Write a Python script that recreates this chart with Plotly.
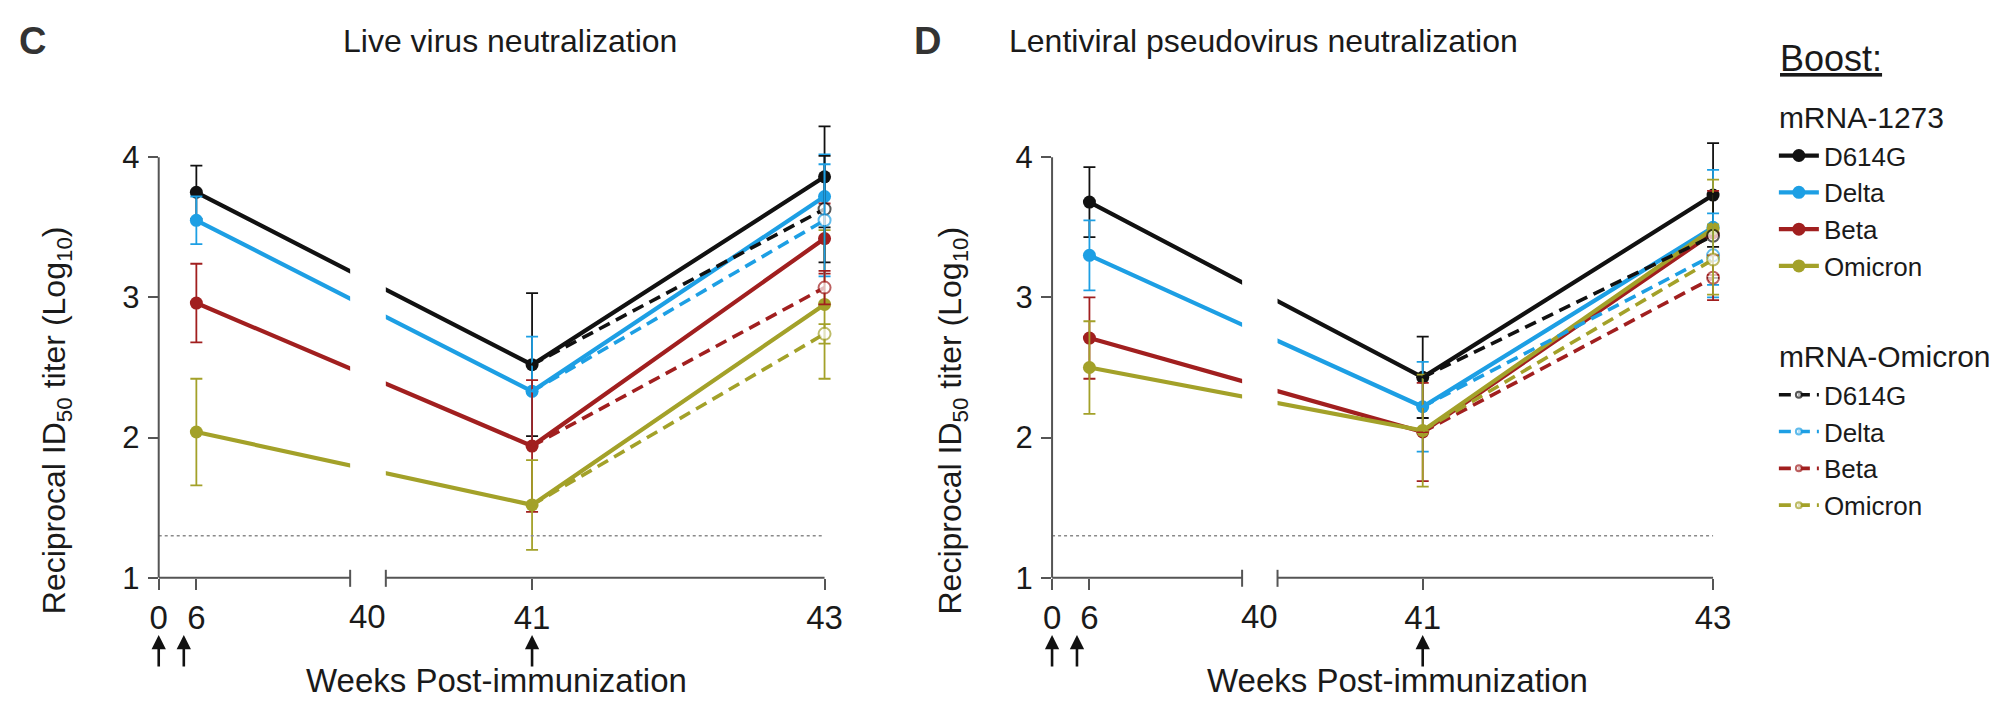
import plotly.graph_objects as go

W, H = 2001, 703          # target picture size
LAYOUT_H = 722            # figure height handed to plotly

# ---- data ---------------------------------------------------------------
VARIANTS = ["D614G", "Delta", "Beta", "Omicron"]
WEEKS_PRIME = [6, 41, 43]          # mRNA-1273 boost series
WEEK_BOOST_READ = 43               # mRNA-Omicron boost read-out
IMMUNIZATION_WEEKS = [0, 4, 41]    # arrows under the axis

# Live virus neutralization (log10 reciprocal ID50), mean and SD
LIVE_1273 = {"D614G": [3.75, 2.52, 3.86], "Delta": [3.55, 2.33, 3.72],
             "Beta": [2.96, 1.94, 3.42], "Omicron": [2.04, 1.52, 2.95]}
LIVE_1273_SD = {"D614G": [0.19, 0.51, 0.36], "Delta": [0.17, 0.39, 0.30],
                "Beta": [0.28, 0.47, 0.25], "Omicron": [0.38, 0.32, 0.53]}
LIVE_OMI = {"D614G": 3.63, "Delta": 3.55, "Beta": 3.07, "Omicron": 2.74}
LIVE_OMI_SD = {"D614G": 0.38, "Delta": 0.40, "Beta": 0.12, "Omicron": 0.07}

# Lentiviral pseudovirus neutralization
PSV_1273 = {"D614G": [3.68, 2.43, 3.73], "Delta": [3.30, 2.22, 3.50],
            "Beta": [2.71, 2.04, 3.46], "Omicron": [2.50, 2.05, 3.49]}
PSV_1273_SD = {"D614G": [0.25, 0.29, 0.37], "Delta": [0.25, 0.32, 0.41],
               "Beta": [0.29, 0.35, 0.30], "Omicron": [0.33, 0.40, 0.35]}
PSV_OMI = {"D614G": 3.44, "Delta": 3.30, "Beta": 3.14, "Omicron": 3.27}
PSV_OMI_SD = {"D614G": 0.30, "Delta": 0.30, "Beta": 0.16, "Omicron": 0.25}

LOD = 1.3
Y_TICKS = [1, 2, 3, 4]
X_TICK_WEEKS = [0, 6, 41, 43]
BREAK_LABEL = "40"

# ---- styling --------------------------------------------------------------
COLORS = {"D614G": "#111111", "Delta": "#1d9fe4", "Beta": "#a11f1f", "Omicron": "#a3a129"}
AXIS_COLOR = "#555555"
TEXT_COLOR = "#1a1a1a"
FONT = "Liberation Sans, Arial, sans-serif"

# broken x axis: weeks >= 40 are drawn 1 unit/week, early weeks compressed
SEG1_ORIGIN = 38.447
SEG1_SCALE = 0.0429
SEG1_END = 39.756
SEG2_START = 40.0
X_RANGE = [SEG1_ORIGIN, 43.132]
Y_RANGE = [1, 4.35]

AXIS_Y = 577      # pixel row of the x axis (y = 1)
TOP_Y = 157       # pixel row of y = 4


def xpos(week):
    return week if week >= 40 else SEG1_ORIGIN + SEG1_SCALE * week


def px(x):
    return x / W


def py(y):
    return 1 - y / H


_unit = (AXIS_Y - TOP_Y) / 3.0
Y_DOMAIN = [py(AXIS_Y), py(AXIS_Y - _unit * (Y_RANGE[1] - Y_RANGE[0]))]

PANELS = [
    dict(xa="x", ya="y", left=151, right=842, letter="C", letter_x=24,
         title="Live virus neutralization", title_x=505, ytitle_x=48, xtitle_x=492,
         prime=LIVE_1273, prime_sd=LIVE_1273_SD, omi=LIVE_OMI, omi_sd=LIVE_OMI_SD,
         legend=False),
    dict(xa="x2", ya="y2", left=1052, right=1738, letter="D", letter_x=926,
         title="Lentiviral pseudovirus neutralization", title_x=1265, ytitle_x=952,
         xtitle_x=1400,
         prime=PSV_1273, prime_sd=PSV_1273_SD, omi=PSV_OMI, omi_sd=PSV_OMI_SD,
         legend=True),
]

fig = go.Figure()
shapes, annotations = [], []
layout_axes = {}

for i, p in enumerate(PANELS):
    xa, ya = p["xa"], p["ya"]
    # mRNA-1273 boost: solid lines, filled markers
    for j, v in enumerate(VARIANTS):
        fig.add_trace(go.Scatter(
            x=[xpos(w) for w in WEEKS_PRIME], y=p["prime"][v],
            error_y=dict(type="data", array=p["prime_sd"][v], color=COLORS[v],
                         thickness=1.8, width=6),
            mode="lines+markers", name=v, xaxis=xa, yaxis=ya,
            line=dict(color=COLORS[v], width=4.2),
            marker=dict(color=COLORS[v], size=13),
            legendgroup="g1273", showlegend=p["legend"],
            legendgrouptitle=dict(text="mRNA-1273") if j == 0 else None,
            cliponaxis=False,
        ))
    # mRNA-Omicron boost: dashed lines from the week-41 value, open markers
    for j, v in enumerate(VARIANTS):
        fig.add_trace(go.Scatter(
            x=[xpos(41), xpos(WEEK_BOOST_READ)], y=[p["prime"][v][1], p["omi"][v]],
            error_y=dict(type="data", array=[0, p["omi_sd"][v]], color=COLORS[v],
                         thickness=1.8, width=6),
            mode="lines+markers", name=v, xaxis=xa, yaxis=ya,
            line=dict(color=COLORS[v], width=3.6, dash="12px,7px"),
            marker=dict(color="white", size=[0, 12], line=dict(color=COLORS[v], width=2)),
            legendgroup="gomi", showlegend=p["legend"],
            legendgrouptitle=dict(text="mRNA-Omicron") if j == 0 else None,
            cliponaxis=False,
        ))

    xdom = [px(p["left"]), px(p["right"])]
    suffix = "" if i == 0 else "2"
    layout_axes["xaxis" + suffix] = dict(
        domain=xdom, range=X_RANGE, anchor=ya, showline=False, showgrid=False,
        zeroline=False, ticks="outside", ticklen=11, tickwidth=2, tickcolor=AXIS_COLOR,
        tickvals=[xpos(w) for w in X_TICK_WEEKS], ticktext=[str(w) for w in X_TICK_WEEKS],
        tickfont=dict(size=33, color=TEXT_COLOR), ticklabelstandoff=0,
    )
    layout_axes["yaxis" + suffix] = dict(
        domain=Y_DOMAIN, range=Y_RANGE, anchor=xa, showline=False, showgrid=False,
        zeroline=False, ticks="outside", ticklen=10, tickwidth=2, tickcolor=AXIS_COLOR,
        tickvals=Y_TICKS, ticktext=[str(t) for t in Y_TICKS],
        tickfont=dict(size=31, color=TEXT_COLOR), ticklabelstandoff=2,
    )

    # white break through the data lines
    shapes.append(dict(type="rect", xref=xa, yref="paper", x0=SEG1_END, x1=SEG2_START,
                       y0=py(AXIS_Y + 2), y1=py(100), fillcolor="white", line=dict(width=0),
                       layer="above"))
    # limit of detection
    shapes.append(dict(type="line", xref=xa, yref=ya, x0=xpos(0), x1=43, y0=LOD, y1=LOD,
                       line=dict(color="#8a8a8a", width=1.6, dash="dot"), layer="above"))
    # y axis line
    shapes.append(dict(type="line", xref="paper", yref=ya, x0=xdom[0], x1=xdom[0],
                       y0=1, y1=4, line=dict(color=AXIS_COLOR, width=2), layer="above"))
    # broken x axis segments with end caps
    for a, b in [(xpos(0), SEG1_END), (SEG2_START, 43)]:
        shapes.append(dict(type="line", xref=xa, yref="paper", x0=a, x1=b,
                           y0=py(AXIS_Y), y1=py(AXIS_Y), line=dict(color=AXIS_COLOR, width=2),
                           layer="above"))
    for c in (SEG1_END, SEG2_START):
        shapes.append(dict(type="line", xref=xa, yref="paper", x0=c, x1=c,
                           y0=py(AXIS_Y - 8), y1=py(AXIS_Y + 9),
                           line=dict(color=AXIS_COLOR, width=2), layer="above"))

    # label of the axis break
    annotations.append(dict(x=(SEG1_END + SEG2_START) / 2, y=py(AXIS_Y + 39), xref=xa,
                            yref="paper", text=BREAK_LABEL, showarrow=False,
                            xanchor="center", yanchor="middle",
                            font=dict(size=33, color=TEXT_COLOR, family=FONT)))
    # immunization arrows
    for w in IMMUNIZATION_WEEKS:
        annotations.append(dict(x=xpos(w), y=py(634), xref=xa, yref="paper", text="",
                                showarrow=True, arrowhead=2, arrowsize=1.1, arrowwidth=2.6,
                                arrowcolor="#111", ax=0, ay=33))
    # texts
    annotations.append(dict(x=px(p["letter_x"]), y=py(41), xref="paper", yref="paper",
                            text="<b>%s</b>" % p["letter"], showarrow=False,
                            xanchor="center", yanchor="middle",
                            font=dict(size=38, color="#333333", family=FONT)))
    annotations.append(dict(x=px(p["title_x"]), y=py(41), xref="paper", yref="paper",
                            text=p["title"], showarrow=False, xanchor="center",
                            yanchor="middle",
                            font=dict(size=32, color=TEXT_COLOR, family=FONT)))
    annotations.append(dict(x=px(p["ytitle_x"]), y=py(420), xref="paper", yref="paper",
                            text="Reciprocal ID<sub>50</sub> titer (Log<sub>10</sub>)",
                            textangle=-90, showarrow=False, xanchor="center",
                            yanchor="middle",
                            font=dict(size=32, color=TEXT_COLOR, family=FONT)))
    annotations.append(dict(x=px(p["xtitle_x"]), y=py(680), xref="paper", yref="paper",
                            text="Weeks Post-immunization", showarrow=False,
                            xanchor="center", yanchor="middle",
                            font=dict(size=33, color=TEXT_COLOR, family=FONT)))

# legend heading
annotations.append(dict(x=px(1784), y=py(58), xref="paper", yref="paper",
                        text="<u>Boost:</u>", showarrow=False, xanchor="left",
                        yanchor="middle", font=dict(size=36, color=TEXT_COLOR, family=FONT)))

fig.update_layout(
    width=W, height=LAYOUT_H, margin=dict(l=0, r=0, t=0, b=0, pad=0),
    paper_bgcolor="white", plot_bgcolor="white",
    font=dict(family=FONT, color=TEXT_COLOR),
    shapes=shapes, annotations=annotations,
    legend=dict(
        x=px(1780), y=py(90), xanchor="left", yanchor="top",
        font=dict(size=26), grouptitlefont=dict(size=30),
        tracegroupgap=50, itemwidth=40, bgcolor="rgba(0,0,0,0)",
    ),
    **layout_axes,
)

fig.write_html("out.html")
